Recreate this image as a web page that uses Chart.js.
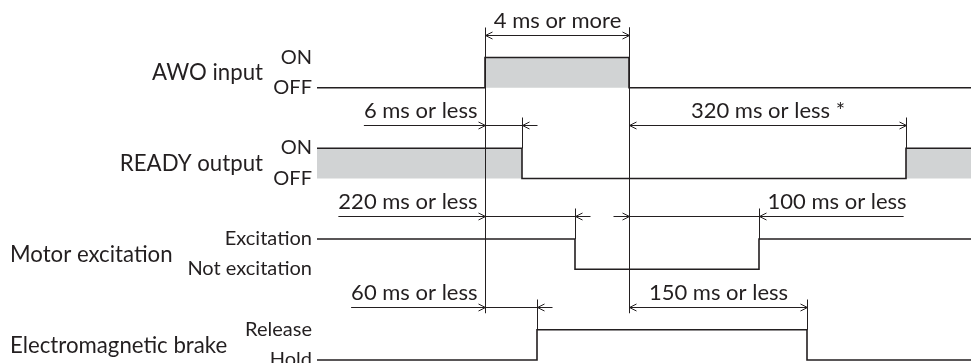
<!DOCTYPE html>
<html>
<head>
<meta charset="utf-8">
<script src="https://cdn.jsdelivr.net/npm/chart.js@4/dist/chart.umd.min.js"></script>
<style>
html,body{margin:0;padding:0;background:#fff;}
#wrap{width:971px;height:363px;position:relative;}
</style>
</head>
<body>
<div id="wrap"><canvas id="c"></canvas></div>
<script>
// ---------- DATA (time in diagram units, t = 0 where AWO input turns ON) ----------
const signalNames = ['AWO input', 'READY output', 'Motor excitation', 'Electromagnetic brake'];
const highLabels  = ['ON', 'ON', 'Excitation', 'Release'];
const lowLabels   = ['OFF', 'OFF', 'Not excitation', 'Hold'];

const awoTimes    = [-168, 0, 144, 486];
const awoStates   = [0, 1, 0, 0];
const readyTimes  = [-168, 37, 421, 486];
const readyStates = [1, 0, 1, 1];
const motorTimes  = [-168, 90, 274, 486];
const motorStates = [1, 0, 1, 1];
const brakeTimes  = [-168, 52, 322, 486];
const brakeStates = [0, 1, 0, 0];

const referenceTimes = [0, 144];

const dimLabels = ['4 ms or more', '6 ms or less', '320 ms or less *', '220 ms or less', '100 ms or less', '60 ms or less', '150 ms or less'];
const dimFrom   = [0, 0, 144, 0, 144, 0, 144];
const dimTo     = [144, 37, 421, 90, 274, 52, 322];
const dimLane   = [0, 1, 1, 2, 2, 3, 3];

// ---------- LAYOUT / STYLE ----------
const INK = '#231f20';
const GRAY = '#d1d3d4';
const FONT = 'Lato, "Open Sans", sans-serif';
const dimKind = ['inside', 'outLeft', 'inside', 'outLeft', 'outRight', 'outLeft', 'inside'];
const nameAlign = ['right', 'right', 'left', 'left'];
const nameAnchor = [-222, -222, -475, -475];
const stateAnchor = -173;
// text widths (px) seen in the original, used to fit font sizes
const NAME_WIDTH = 634, DIM_WIDTH = 939;
const STATE_FIT_TEXTS = ['Excitation', 'Not excitation', 'Release'], STATE_WIDTH = 279;

function fitSize(ctx, texts, target) {
  ctx.save();
  ctx.font = '100px ' + FONT;
  const w = texts.reduce((s, t) => s + ctx.measureText(t).width, 0);
  ctx.restore();
  return 100 * target / w;
}

const signals = [
  [awoTimes, awoStates], [readyTimes, readyStates],
  [motorTimes, motorStates], [brakeTimes, brakeStates]
];
const hi = i => 3 * i;      // high level of lane i
const lo = i => 3 * i + 1;  // low level of lane i

const datasets = signals.map(([times, states], i) => ({
  data: times.map((t, k) => ({x: t, y: states[k] ? hi(i) : lo(i)})),
  stepped: true,
  borderColor: INK,
  borderWidth: 1.6,
  pointRadius: 0,
  backgroundColor: GRAY,
  fill: i < 2 ? {value: lo(i)} : false,
  clip: false
}));

const annot = {
  id: 'annot',
  afterDatasetsDraw(chart) {
    const {ctx, scales: {x, y}} = chart;
    const px = t => x.getPixelForValue(t);
    const py = v => y.getPixelForValue(v);
    const snap = v => Math.round(v) + 0.5;
    const NAME_SIZE = fitSize(ctx, signalNames, NAME_WIDTH);
    const STATE_SIZE = fitSize(ctx, STATE_FIT_TEXTS, STATE_WIDTH);
    const DIM_SIZE = fitSize(ctx, dimLabels, DIM_WIDTH);
    ctx.save();
    ctx.fillStyle = INK;
    ctx.strokeStyle = INK;
    ctx.textBaseline = 'alphabetic';

    // signal names
    ctx.font = NAME_SIZE.toFixed(2) + 'px ' + FONT;
    signalNames.forEach((n, i) => {
      const mid = (py(hi(i)) + py(lo(i))) / 2;
      ctx.textAlign = nameAlign[i];
      ctx.fillText(n, px(nameAnchor[i]), mid + 7.8);
    });

    // state labels
    ctx.font = STATE_SIZE.toFixed(2) + 'px ' + FONT;
    ctx.textAlign = 'right';
    signalNames.forEach((n, i) => {
      ctx.fillText(highLabels[i], px(stateAnchor), py(hi(i)) + 6);
      ctx.fillText(lowLabels[i], px(stateAnchor), py(lo(i)) + 6);
    });

    ctx.lineWidth = 1;
    const line = (x1, y1, x2, y2) => { ctx.beginPath(); ctx.moveTo(x1, y1); ctx.lineTo(x2, y2); ctx.stroke(); };
    const head = (xt, yy, dir) => {
      ctx.beginPath();
      ctx.moveTo(xt - dir * 7, yy - 3.5); ctx.lineTo(xt, yy); ctx.lineTo(xt - dir * 7, yy + 3.5);
      ctx.stroke();
    };

    // reference (extension) lines
    const topRow = py(hi(0)) - 23, botRow = py(hi(3)) - 23;
    referenceTimes.forEach(t => line(snap(px(t)), topRow - 7, snap(px(t)), botRow + 6.5));

    // dimensions
    ctx.font = DIM_SIZE.toFixed(2) + 'px ' + FONT;
    dimLabels.forEach((lab, k) => {
      const lane = dimLane[k];
      const rowY = snap(py(hi(lane)) - 23);
      const x1 = snap(px(dimFrom[k])), x2 = snap(px(dimTo[k]));
      const w = ctx.measureText(lab).width;
      const kind = dimKind[k];
      line(x2, rowY - 8, x2, py(hi(lane)));
      if (kind === 'inside') {
        line(x1, rowY, x2, rowY);
        head(x1, rowY, -1); head(x2, rowY, 1);
        ctx.textAlign = 'center';
        ctx.fillText(lab, (x1 + x2) / 2, rowY - 8);
      } else if (kind === 'outLeft') {
        const tr = x1 - 8;
        line(tr - w, rowY, x2 + 15, rowY);
        head(x1, rowY, 1); head(x2, rowY, -1);
        ctx.textAlign = 'right';
        ctx.fillText(lab, tr, rowY - 8);
      } else {
        const tl = x2 + 8;
        line(x1 - 16, rowY, tl + w - 3, rowY);
        head(x1, rowY, 1); head(x2, rowY, -1);
        ctx.textAlign = 'left';
        ctx.fillText(lab, tl, rowY - 8);
      }
    });
    ctx.restore();
  }
};

new Chart(document.getElementById('c'), {
  type: 'line',
  data: {datasets},
  options: {
    responsive: true,
    maintainAspectRatio: false,
    animation: false,
    events: [],
    layout: {padding: 0},
    plugins: {legend: {display: false}, tooltip: {enabled: false}},
    scales: {
      x: {type: 'linear', min: -485, max: 486, display: false},
      y: {type: 'linear', min: -1.901, max: 10.099, reverse: true, display: false}
    }
  },
  plugins: [annot]
});
</script>
</body>
</html>
